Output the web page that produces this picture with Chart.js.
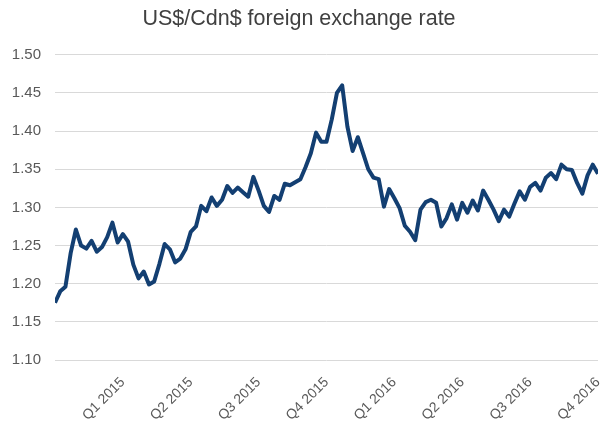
<!DOCTYPE html>
<html>
<head>
<meta charset="utf-8">
<script src="https://cdn.jsdelivr.net/npm/chart.js@4/dist/chart.umd.min.js"></script>
<style>
  html, body { margin: 0; padding: 0; background: #fff; }
  #wrap { width: 600px; height: 425px; }
</style>
</head>
<body>
<div id="wrap"><canvas id="fxChart"></canvas></div>
<script>
// weekly US$/Cdn$ rate, week 0 = start of Jan 2015
const rates = [
  1.175, 1.190, 1.196, 1.240, 1.271, 1.250, 1.246, 1.256, 1.242, 1.248,
  1.261, 1.280, 1.254, 1.265, 1.255, 1.225, 1.207, 1.216, 1.199, 1.203,
  1.226, 1.252, 1.245, 1.228, 1.233, 1.245, 1.268, 1.275, 1.302, 1.295,
  1.313, 1.302, 1.310, 1.328, 1.319, 1.326, 1.320, 1.314, 1.340, 1.322,
  1.302, 1.294, 1.315, 1.310, 1.331, 1.329, 1.333, 1.337, 1.353, 1.371,
  1.398, 1.386, 1.386, 1.415, 1.450, 1.460, 1.406, 1.374, 1.392, 1.371,
  1.350, 1.339, 1.337, 1.301, 1.324, 1.312, 1.299, 1.276, 1.268, 1.257,
  1.297, 1.307, 1.310, 1.306, 1.275, 1.286, 1.304, 1.284, 1.306, 1.293,
  1.309, 1.296, 1.322, 1.310, 1.297, 1.282, 1.297, 1.288, 1.305, 1.321,
  1.310, 1.327, 1.332, 1.322, 1.339, 1.345, 1.337, 1.356, 1.350, 1.349,
  1.332, 1.318, 1.342, 1.356, 1.344
];

// quarter ends, in weeks from the start
const quarterWeeks = [13, 26, 39, 52, 65, 78, 91, 104];
const quarterLabels = ['Q1 2015', 'Q2 2015', 'Q3 2015', 'Q4 2015', 'Q1 2016', 'Q2 2016', 'Q3 2016', 'Q4 2016'];

const yMin = 1.10;
const yMax = 1.50;
const yStep = 0.05;

const points = rates.map((r, i) => ({ x: i, y: r }));

const ctx = document.getElementById('fxChart').getContext('2d');
new Chart(ctx, {
  type: 'line',
  data: {
    datasets: [{
      label: 'US$/Cdn$',
      data: points,
      borderColor: '#133f72',
      borderWidth: 4,
      borderJoinStyle: 'round',
      pointRadius: 0,
      fill: false,
      tension: 0
    }]
  },
  options: {
    responsive: true,
    maintainAspectRatio: false,
    animation: false,
    layout: { padding: { left: 0, right: 2, top: 0, bottom: 0 } },
    plugins: {
      legend: { display: false },
      tooltip: { enabled: false },
      title: {
        display: true,
        text: 'US$/Cdn$ foreign exchange rate',
        color: '#404040',
        font: { family: 'Liberation Sans, Arial, sans-serif', size: 21.5, weight: 'normal' },
        padding: { top: 6, bottom: 23 }
      }
    },
    scales: {
      x: {
        type: 'linear',
        min: 0,
        max: rates.length - 1,
        grid: { display: false },
        border: { display: false },
        afterBuildTicks: (scale) => {
          scale.ticks = quarterWeeks.map(w => ({ value: w }));
        },
        afterFit: (scale) => {
          scale.height = 65;
          scale.paddingLeft = 0;
          scale.paddingRight = 0;
        },
        ticks: {
          autoSkip: false,
          minRotation: 45,
          maxRotation: 45,
          padding: 6,
          color: '#595959',
          font: { family: 'Liberation Sans, Arial, sans-serif', size: 14 },
          callback: (value, index) => quarterLabels[index]
        }
      },
      y: {
        min: yMin,
        max: yMax,
        border: { display: false },
        grid: { color: '#d9d9d9', lineWidth: 1, drawTicks: false },
        afterFit: (scale) => { scale.width = 55; },
        ticks: {
          stepSize: yStep,
          padding: 14,
          color: '#595959',
          font: { family: 'Liberation Sans, Arial, sans-serif', size: 15 },
          callback: (value) => value.toFixed(2)
        }
      }
    }
  }
});
</script>
</body>
</html>
